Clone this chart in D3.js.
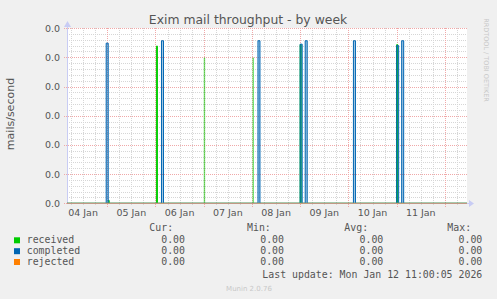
<!DOCTYPE html>
<html lang="en">
<head>
<meta charset="UTF-8">
<script src="https://d3js.org/d3.v7.min.js"></script>
<style>
  body { margin: 0; background: #f0f0f0; }
  svg { display: block; }
  text { font-family: "DejaVu Sans", sans-serif; }
  .mono { font-family: "DejaVu Sans Mono", monospace; font-size: 9.9px; fill: #555; }
</style>
</head>
<body>
<div id="chart"></div>
<script>
// week window shown by the graph
var startTime = new Date(2026, 0, 4, 4, 0);
var endTime = new Date(2026, 0, 12, 11, 0);

// y ticks (all print as 0.0)
var yTicks = [0, 0.0006, 0.0012, 0.0018, 0.0024, 0.003, 0.0036];
var dayLabels = ["04 Jan", "05 Jan", "06 Jan", "07 Jan", "08 Jan", "09 Jan", "10 Jan", "11 Jan"];

// spikes: [start, end, value]
var received = [
  [new Date(2026, 0, 5, 0, 30), new Date(2026, 0, 5, 1, 0), 0.00006],
  [new Date(2026, 0, 6, 0, 30), new Date(2026, 0, 6, 1, 0), 0.00323],
  [new Date(2026, 0, 9, 0, 0), new Date(2026, 0, 9, 0, 30), 0.00326],
  [new Date(2026, 0, 11, 0, 0), new Date(2026, 0, 11, 0, 30), 0.00326]
];
// pale received spikes
var receivedPale = [
  [new Date(2026, 0, 7, 0, 15), new Date(2026, 0, 7, 0, 30), 0.00299],
  [new Date(2026, 0, 8, 0, 30), new Date(2026, 0, 8, 0, 45), 0.00299]
];
var completed = [
  [new Date(2026, 0, 4, 23, 30), new Date(2026, 0, 5, 0, 30), 0.00329],
  [new Date(2026, 0, 6, 3, 0), new Date(2026, 0, 6, 4, 0), 0.00334],
  [new Date(2026, 0, 8, 3, 0), new Date(2026, 0, 8, 4, 0), 0.00334],
  [new Date(2026, 0, 9, 0, 0), new Date(2026, 0, 9, 1, 0), 0.00327],
  [new Date(2026, 0, 9, 2, 30), new Date(2026, 0, 9, 3, 30), 0.00334],
  [new Date(2026, 0, 10, 2, 30), new Date(2026, 0, 10, 3, 30), 0.00334],
  [new Date(2026, 0, 11, 0, 0), new Date(2026, 0, 11, 1, 0), 0.00324],
  [new Date(2026, 0, 11, 2, 30), new Date(2026, 0, 11, 3, 30), 0.00334]
];
var rejected = [];

var seriesNames = ["received", "completed", "rejected"];
var seriesColors = ["#00cc00", "#0066b3", "#ff8000"];
var curVals = ["0.00", "0.00", "0.00"];
var minVals = ["0.00", "0.00", "0.00"];
var avgVals = ["0.00", "0.00", "0.00"];
var maxVals = ["0.00", "0.00", "0.00"];

var W = 497, H = 299;
var x = d3.scaleTime().domain([startTime, endTime]).range([67, 467]);
var y = d3.scaleLinear().domain([0, 0.0036]).range([203.3, 28.1]);

var svg = d3.select("#chart").append("svg").attr("width", W).attr("height", H);
svg.append("rect").attr("width", W).attr("height", H).attr("fill", "#f0f0f0");
svg.append("rect").attr("x", 67).attr("y", 28).attr("width", 400).attr("height", 175.3).attr("fill", "#fff");

function px(v) { return Math.round(v) + 0.5; }

// minor grid
var minorY = d3.range(0, 0.0036 + 1e-9, 0.00012).filter(function (d, i) { return i % 5 !== 0; });
var sixHours = d3.timeHour.every(6).range(startTime, endTime).filter(function (d) { return d.getHours() !== 0; });
var days = d3.timeDay.range(startTime, endTime);
var labelDays = d3.timeDay.range(d3.timeDay.floor(startTime), d3.timeDay.floor(endTime));

svg.append("g").selectAll("line").data(minorY).enter().append("line")
  .attr("x1", 67).attr("x2", 467).attr("y1", function (d) { return px(y(d)); }).attr("y2", function (d) { return px(y(d)); })
  .attr("stroke", "#d6d6d6").attr("stroke-dasharray", "1,1").attr("shape-rendering", "crispEdges");
svg.append("g").selectAll("line").data(sixHours).enter().append("line")
  .attr("y1", 28).attr("y2", 205).attr("x1", function (d) { return px(x(d)); }).attr("x2", function (d) { return px(x(d)); })
  .attr("stroke", "#d6d6d6").attr("stroke-dasharray", "1,1").attr("shape-rendering", "crispEdges");

// major grid
svg.append("g").selectAll("line").data(yTicks).enter().append("line")
  .attr("x1", 64).attr("x2", 467).attr("y1", function (d) { return px(y(d)); }).attr("y2", function (d) { return px(y(d)); })
  .attr("stroke", "#f0a8a8").attr("stroke-dasharray", "1,1").attr("shape-rendering", "crispEdges");
svg.append("g").selectAll("line").data(days).enter().append("line")
  .attr("y1", 28).attr("y2", 207).attr("x1", function (d) { return px(x(d)); }).attr("x2", function (d) { return px(x(d)); })
  .attr("stroke", "#f0a8a8").attr("stroke-dasharray", "1,1").attr("shape-rendering", "crispEdges");

// axes lines with arrows
svg.append("line").attr("x1", 67.5).attr("x2", 67.5).attr("y1", 26).attr("y2", 204)
  .attr("stroke", "#c8ccf4").attr("shape-rendering", "crispEdges");
svg.append("path").attr("d", "M64,27L71,27L67.5,21Z").attr("fill", "#c8ccf4");
svg.append("line").attr("x1", 67).attr("x2", 470).attr("y1", 203.5).attr("y2", 203.5)
  .attr("stroke", "#c8ccf4").attr("shape-rendering", "crispEdges");
svg.append("path").attr("d", "M469,200L469,207L474,203.5Z").attr("fill", "#c8ccf4");

// tick labels
svg.append("g").selectAll("text").data(yTicks).enter().append("text")
  .attr("x", 60).attr("y", function (d) { return y(d) + 3.4; })
  .attr("text-anchor", "end").attr("font-size", "9.5px").attr("fill", "#555")
  .text(d3.format(".1f"));
svg.append("g").selectAll("text").data(labelDays).enter().append("text")
  .attr("x", function (d) { return x(d3.timeHour.offset(d, 12)); }).attr("y", 216)
  .attr("text-anchor", "middle").attr("font-size", "9.5px").attr("fill", "#555")
  .text(function (d, i) { return dayLabels[i]; });

// series
function seriesPoints(spikes) {
  var pts = [[startTime, 0]];
  spikes.forEach(function (s) {
    pts.push([s[0], 0], [s[0], s[2]], [s[1], s[2]], [s[1], 0]);
  });
  pts.push([endTime, 0]);
  return pts;
}
var line = d3.line().x(function (d) { return x(d[0]); }).y(function (d) { return y(d[1]); });

svg.append("path").datum(seriesPoints(receivedPale)).attr("d", line)
  .attr("fill", "none").attr("stroke", seriesColors[0]).attr("stroke-opacity", 0.45).attr("stroke-width", 1);
svg.append("path").datum(seriesPoints(received)).attr("d", line)
  .attr("fill", seriesColors[0]).attr("fill-opacity", 0.35).attr("stroke", seriesColors[0]).attr("stroke-width", 1);
svg.append("path").datum(seriesPoints(completed)).attr("d", line)
  .attr("fill", seriesColors[1]).attr("fill-opacity", 0.35).attr("stroke", seriesColors[1]).attr("stroke-width", 1);
svg.append("path").datum(seriesPoints(rejected)).attr("d", line)
  .attr("fill", "none").attr("stroke", "#f0a080").attr("stroke-width", 1);

// titles
svg.append("text").attr("x", 248).attr("y", 23.5).attr("text-anchor", "middle")
  .attr("font-size", "12.4px").attr("fill", "#555").text("Exim mail throughput - by week");
svg.append("text").attr("transform", "translate(14,114) rotate(-90)").attr("text-anchor", "middle")
  .attr("font-size", "11px").attr("fill", "#555").text("mails/second");
svg.append("text").attr("transform", "translate(484,60) rotate(90)").attr("text-anchor", "middle")
  .attr("font-size", "6.5px").attr("fill", "#c8c8c8").text("RRDTOOL / TOBI OETIKER");

// legend
var headBase = 230.7, rowBase = [243.3, 254.2, 265];
svg.append("text").attr("class", "mono").attr("x", 149.3).attr("y", headBase).text("Cur:");
svg.append("text").attr("class", "mono").attr("x", 247).attr("y", headBase).text("Min:");
svg.append("text").attr("class", "mono").attr("x", 344.3).attr("y", headBase).text("Avg:");
svg.append("text").attr("class", "mono").attr("x", 447.3).attr("y", headBase).text("Max:");

var rows = svg.append("g").selectAll("g").data(seriesNames).enter().append("g");
rows.append("rect").attr("x", 14).attr("y", function (d, i) { return rowBase[i] - 6; })
  .attr("width", 6).attr("height", 6).attr("fill", function (d, i) { return seriesColors[i]; });
rows.append("text").attr("class", "mono").attr("x", 26.7).attr("y", function (d, i) { return rowBase[i]; }).text(function (d) { return d; });
[[curVals, 185], [minVals, 284], [avgVals, 383.3], [maxVals, 482.3]].forEach(function (c) {
  rows.append("text").attr("class", "mono").attr("text-anchor", "end").attr("x", c[1])
    .attr("y", function (d, i) { return rowBase[i]; }).text(function (d, i) { return c[0][i]; });
});
svg.append("text").attr("class", "mono").attr("text-anchor", "end").attr("x", 482.3).attr("y", 277.5)
  .text("Last update: Mon Jan 12 11:00:05 2026");
svg.append("text").attr("x", 249).attr("y", 290.5).attr("text-anchor", "middle")
  .attr("font-size", "7px").attr("fill", "#c8c8c8").text("Munin 2.0.76");
</script>
</body>
</html>
